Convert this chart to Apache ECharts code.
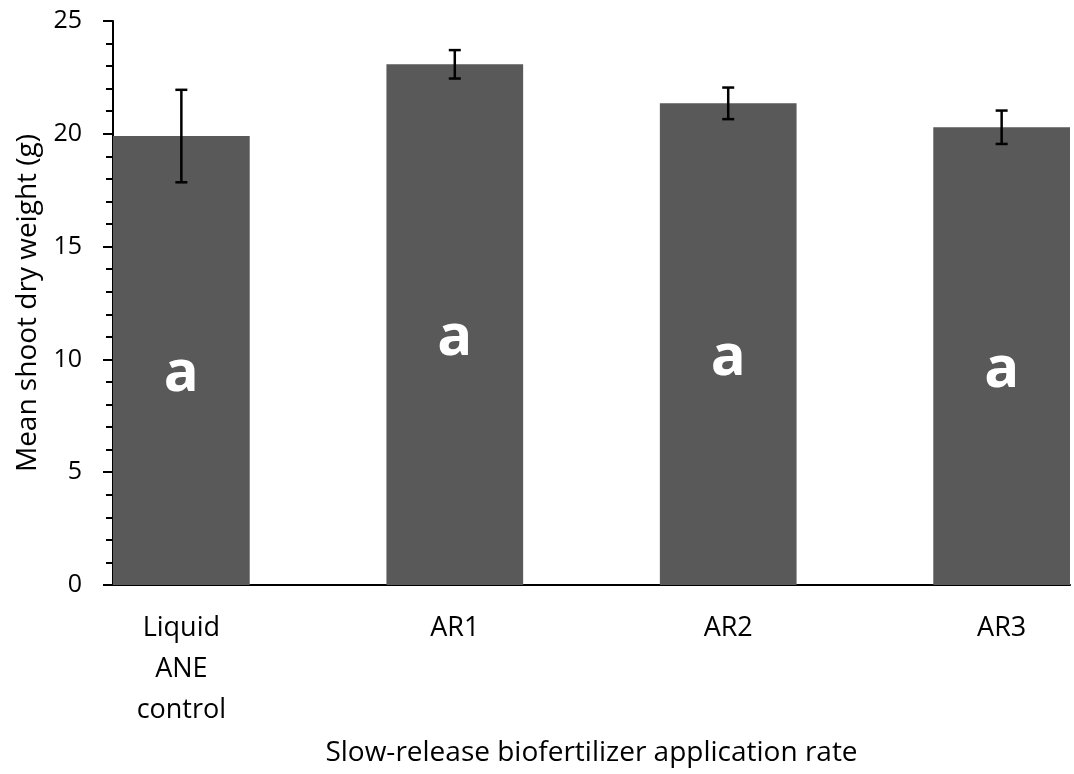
<!DOCTYPE html>
<html>
<head>
<meta charset="utf-8">
<script src="https://cdn.jsdelivr.net/npm/echarts@6/dist/echarts.min.js"></script>
<style>html,body{margin:0;padding:0;background:#fff}#c{width:1074px;height:774px}</style>
</head>
<body>
<div id="c"></div>
<script>
const categories = ['Liquid\nANE\ncontrol', 'AR1', 'AR2', 'AR3'];
const meanValues = [19.9, 23.08, 21.35, 20.29];
const errorValues = [2.05, 0.63, 0.70, 0.74];
const groupLetters = ['a', 'a', 'a', 'a'];
const yTicks = [0, 5, 10, 15, 20, 25];

const FONT = '"Open Sans", "Noto Sans", sans-serif';
const chart = echarts.init(document.getElementById('c'), null, {renderer: 'canvas'});

chart.setOption({
  animation: false,
  backgroundColor: '#fff',
  grid: {left: 113, right: 4, top: 21, bottom: 189, containLabel: false},
  xAxis: {
    type: 'value',
    min: -0.25,
    max: 3.25,
    name: 'Slow-release biofertilizer application rate',
    nameLocation: 'middle',
    nameGap: 154,
    nameTextStyle: {fontFamily: FONT, fontSize: 28, color: '#000'},
    axisLine: {show: true, onZero: false, lineStyle: {color: '#000', width: 2}},
    axisTick: {show: false},
    splitLine: {show: false},
    axisLabel: {
      customValues: categories.map((c, i) => i),
      formatter: v => categories[Math.round(v)] || '',
      fontFamily: FONT, fontSize: 27, color: '#000',
      lineHeight: 41, margin: 23
    }
  },
  yAxis: {
    type: 'value',
    min: yTicks[0],
    max: yTicks[yTicks.length - 1],
    interval: 5,
    name: 'Mean shoot dry weight (g)',
    nameLocation: 'middle',
    nameGap: 71,
    nameTextStyle: {fontFamily: FONT, fontSize: 28, color: '#000'},
    axisLine: {show: true, onZero: false, lineStyle: {color: '#000', width: 2}},
    axisTick: {show: true, length: 10, lineStyle: {color: '#000', width: 2}},
    minorTick: {show: true, splitNumber: 5, length: 7, lineStyle: {color: '#000', width: 2}},
    splitLine: {show: false},
    axisLabel: {fontFamily: FONT, fontSize: 25, color: '#000', margin: 31}
  },
  series: [
    {
      type: 'bar',
      barWidth: '50%',
      itemStyle: {color: '#595959'},
      data: meanValues.map((v, i) => [i, v]),
      label: {
        show: true,
        position: 'inside',
        offset: [0, 14],
        formatter: p => groupLetters[p.dataIndex],
        color: '#fff',
        fontFamily: FONT,
        fontWeight: 'bold',
        fontSize: 58
      },
      z: 2
    },
    {
      type: 'custom',
      data: meanValues.map((v, i) => [i, v - errorValues[i], v + errorValues[i]]),
      renderItem: function (params, api) {
        const x = api.value(0);
        const lo = api.coord([x, api.value(1)]);
        const hi = api.coord([x, api.value(2)]);
        const hw = 6;
        const style = {stroke: '#000', lineWidth: 2.5};
        return {
          type: 'group',
          children: [
            {type: 'line', shape: {x1: lo[0], y1: lo[1], x2: hi[0], y2: hi[1]}, style: style},
            {type: 'line', shape: {x1: lo[0] - hw, y1: lo[1], x2: lo[0] + hw, y2: lo[1]}, style: style},
            {type: 'line', shape: {x1: hi[0] - hw, y1: hi[1], x2: hi[0] + hw, y2: hi[1]}, style: style}
          ]
        };
      },
      z: 5
    }
  ]
});
</script>
</body>
</html>
